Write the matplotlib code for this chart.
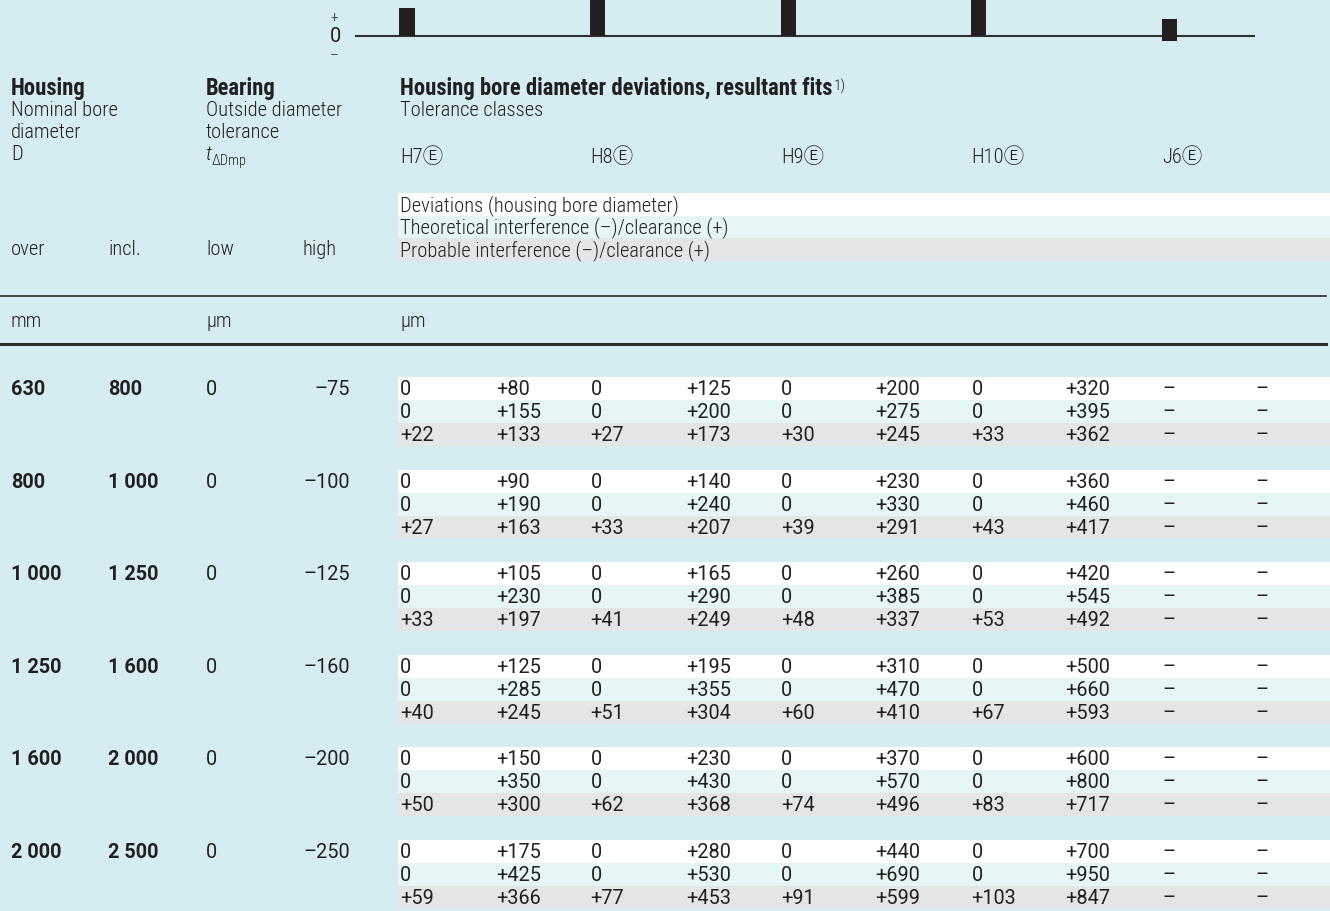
import matplotlib.pyplot as plt
from matplotlib import font_manager
from matplotlib.patches import Rectangle

# table data
classes = ['H7Ⓔ', 'H8Ⓔ', 'H9Ⓔ', 'H10Ⓔ', 'J6Ⓔ']
over = ['630', '800', '1 000', '1 250', '1 600', '2 000']
incl = ['800', '1 000', '1 250', '1 600', '2 000', '2 500']
tol_low = ['0', '0', '0', '0', '0', '0']
tol_high = ['–75', '–100', '–125', '–160', '–200', '–250']

h7_dev = [(0, 80), (0, 90), (0, 105), (0, 125), (0, 150), (0, 175)]
h7_theo = [(0, 155), (0, 190), (0, 230), (0, 285), (0, 350), (0, 425)]
h7_prob = [(22, 133), (27, 163), (33, 197), (40, 245), (50, 300), (59, 366)]
h8_dev = [(0, 125), (0, 140), (0, 165), (0, 195), (0, 230), (0, 280)]
h8_theo = [(0, 200), (0, 240), (0, 290), (0, 355), (0, 430), (0, 530)]
h8_prob = [(27, 173), (33, 207), (41, 249), (51, 304), (62, 368), (77, 453)]
h9_dev = [(0, 200), (0, 230), (0, 260), (0, 310), (0, 370), (0, 440)]
h9_theo = [(0, 275), (0, 330), (0, 385), (0, 470), (0, 570), (0, 690)]
h9_prob = [(30, 245), (39, 291), (48, 337), (60, 410), (74, 496), (91, 599)]
h10_dev = [(0, 320), (0, 360), (0, 420), (0, 500), (0, 600), (0, 700)]
h10_theo = [(0, 395), (0, 460), (0, 545), (0, 660), (0, 800), (0, 950)]
h10_prob = [(33, 362), (43, 417), (53, 492), (67, 593), (83, 717), (103, 847)]
j6_dev = [None] * 6
j6_theo = [None] * 6
j6_prob = [None] * 6

table = [
    [h7_dev, h7_theo, h7_prob],
    [h8_dev, h8_theo, h8_prob],
    [h9_dev, h9_theo, h9_prob],
    [h10_dev, h10_theo, h10_prob],
    [j6_dev, j6_theo, j6_prob],
]

# schematic tolerance zones in the small diagram on top
diag_lo = [0, 0, 0, 0, -5]
diag_hi = [28, 45, 60, 80, 17]

bg = '#d5edf1'
row_cols = ['#ffffff', '#e6f5f6', '#e4e5e7']
ink = '#231f20'

# narrow face for words, regular face for figures
fonts = font_manager.fontManager.ttflist
names = {f.name for f in fonts}
if 'Roboto Condensed' in names:
    main, fs = 'Roboto Condensed', 14.8
elif 'Liberation Sans Narrow' in names:
    main, fs = 'Liberation Sans Narrow', 15.8
else:
    main, fs = 'Roboto', 13
fam = [main, 'Noto Sans CJK JP', 'DejaVu Sans']
numfam = ['Roboto', 'DejaVu Sans']
nfs = 14.3
bfs = fs * 1.1


def has_light(name):
    return any(f.name == name and f.weight in (300, 'light') for f in fonts)


tw = 'light' if has_light(main) else 'normal'

plt.rcParams['font.family'] = fam

fig = plt.figure(figsize=(13.3, 9.12), dpi=100)
fig.patch.set_facecolor(bg)
ax = fig.add_axes([0, 0, 1, 1])
ax.set_xlim(0, 1330)
ax.set_ylim(912, 0)
ax.axis('off')


def fmt(v):
    if v is None:
        return '–'
    if v == 0:
        return '0'
    return '+%d' % v if v > 0 else '–%d' % -v


def txt(x, y, s, **kw):
    kw.setdefault('fontsize', fs)
    kw.setdefault('color', ink)
    kw.setdefault('va', 'center')
    kw.setdefault('fontweight', tw)
    return ax.text(x, y, s, **kw)


def num(x, y, s, **kw):
    kw.setdefault('fontsize', nfs)
    kw.setdefault('family', numfam)
    kw.setdefault('fontweight', 'normal')
    return txt(x, y, s, **kw)


# headers
txt(11, 88, 'Housing', fontweight='bold', fontsize=bfs)
txt(11, 110, 'Nominal bore')
txt(11, 132, 'diameter')
txt(11, 154, 'D')
txt(206, 88, 'Bearing', fontweight='bold', fontsize=bfs)
txt(206, 110, 'Outside diameter')
txt(206, 132, 'tolerance')
t = txt(206, 154, 't', style='italic')
ax.annotate('ΔDmp', xy=(1, 0.12), xycoords=t, fontsize=fs * 0.7,
            color=ink, va='center', fontweight=tw)
h = txt(400, 88, 'Housing bore diameter deviations, resultant fits',
        fontweight='bold', fontsize=bfs)
ax.annotate('1)', xy=(1.002, 0.55), xycoords=h, fontsize=fs * 0.75,
            color=ink, va='center', fontweight=tw)
txt(400, 110, 'Tolerance classes')

lo_x = [400 + 190.5 * k for k in range(5)]
hi_x = [496 + 189.75 * k for k in range(5)]
for k, c in enumerate(classes):
    txt(lo_x[k], 157, c)

legend = ['Deviations (housing bore diameter)',
          'Theoretical interference (–)/clearance (+)',
          'Probable interference (–)/clearance (+)']
for i, s in enumerate(legend):
    y0 = 194 + 22.5 * i
    ax.add_patch(Rectangle((398, y0), 932, 22.5, color=row_cols[i], lw=0))
    txt(400, y0 + 11.5, s)

txt(11, 250, 'over')
txt(108, 250, 'incl.')
txt(206, 250, 'low')
txt(303, 250, 'high')

ax.plot([0, 1326], [297, 297], color='#2b2b2b', lw=1.2)
txt(11, 322, 'mm')
txt(206, 322, 'µm')
txt(400, 322, 'µm')
ax.plot([0, 1326], [345, 345], color='#2b2b2b', lw=2.2)

# body
for g in range(len(over)):
    top = 378 + 92.6 * g
    for r in range(3):
        y0 = top + 23 * r
        ax.add_patch(Rectangle((398, y0), 932, 23, color=row_cols[r], lw=0))
        yc = y0 + 11.5
        for k in range(5):
            val = table[k][r][g]
            lo, hi = (None, None) if val is None else val
            num(lo_x[k], yc, fmt(lo))
            num(hi_x[k], yc, fmt(hi))
    yc = top + 11.5
    num(11, yc, over[g], fontweight='bold')
    num(108, yc, incl[g], fontweight='bold')
    num(206, yc, tol_low[g])
    num(350, yc, tol_high[g], ha='right')

# tolerance zone diagram
dx = fig.add_axes([355 / 1330, 1 - 60 / 912, 900 / 1330, 60 / 912])
dx.set_xlim(-0.273, 4.45)
dx.set_ylim(-23, 37)
dx.axis('off')
xs = list(range(len(classes)))
dx.bar(xs, [hi - lo for lo, hi in zip(diag_lo, diag_hi)], bottom=diag_lo,
       width=0.08, color=ink, zorder=3)
dx.axhline(0, color='#333333', lw=1.5, zorder=2)
txt(330, 18, '+', fontsize=11)
num(330, 37, '0')
txt(330, 56, '–', fontsize=11)

fig.savefig('out.png', dpi=100, facecolor=bg)
